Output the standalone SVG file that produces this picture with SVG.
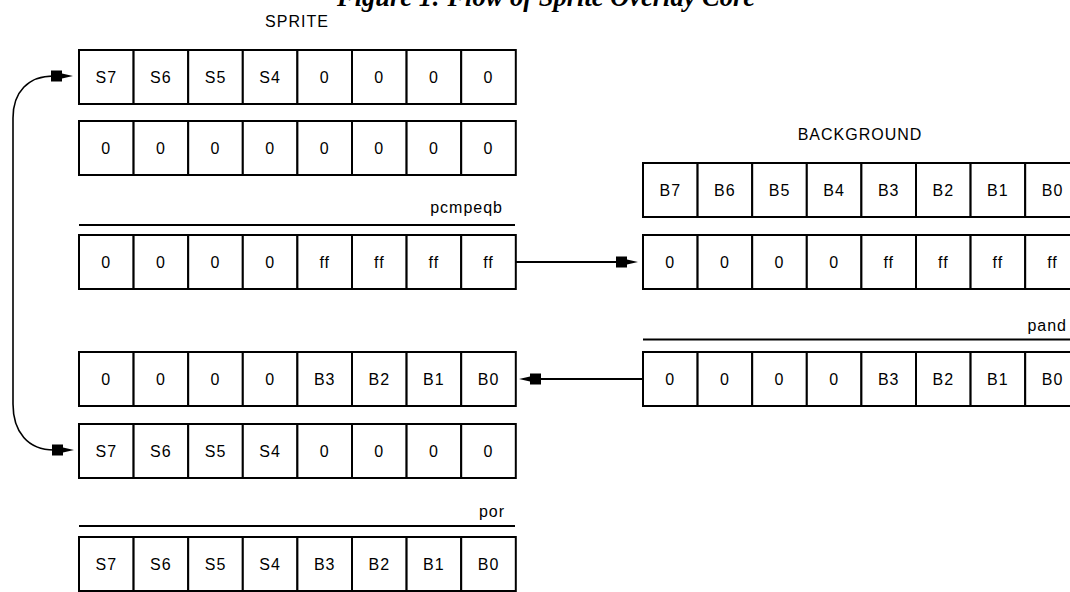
<svg xmlns="http://www.w3.org/2000/svg" xmlns:xlink="http://www.w3.org/1999/xlink" width="1070" height="592" viewBox="0 0 1070 592">
<style>
.cell{fill:#fff;stroke:#000;stroke-width:2}
.t{font-family:"Liberation Sans",Arial,sans-serif;font-size:16px;letter-spacing:1px;fill:#000;text-anchor:middle}
.lbl{font-family:"Liberation Sans",Arial,sans-serif;font-size:16px;letter-spacing:1px;fill:#000}
.bar{stroke:#000;stroke-width:2;fill:none}
.con{stroke:#000;stroke-width:2;fill:none}
.curve{stroke:#000;stroke-width:1.6;fill:none}
.head{fill:#000;stroke:none}
.title{font-family:"Liberation Serif","Times New Roman",serif;font-size:26.5px;font-weight:bold;font-style:italic;fill:#000}
</style>
<defs>
<g id="frame">
<rect class="cell" x="0" y="0" width="54.6" height="54"/>
<rect class="cell" x="54.6" y="0" width="54.6" height="54"/>
<rect class="cell" x="109.2" y="0" width="54.6" height="54"/>
<rect class="cell" x="163.8" y="0" width="54.6" height="54"/>
<rect class="cell" x="218.4" y="0" width="54.6" height="54"/>
<rect class="cell" x="273" y="0" width="54.6" height="54"/>
<rect class="cell" x="327.6" y="0" width="54.6" height="54"/>
<rect class="cell" x="382.2" y="0" width="54.6" height="54"/>
</g>
<path id="ah" class="head" d="M-22,-5.5 H-11 V-2.5 L0,0 L-11,2.5 V5.5 H-22 Z"/>
</defs>
<rect x="0" y="0" width="1070" height="592" fill="#fff"/>

<text class="title" x="337" y="6">Figure 1: Flow of Sprite Overlay Core</text>

<g id="label-sprite"><text class="t" x="297" y="27">SPRITE</text></g>
<g id="label-background"><text class="t" x="860" y="140">BACKGROUND</text></g>

<g id="sprite">
<use href="#frame" x="79" y="50"/>
<g class="t">
<text x="106.3" y="82.6">S7</text><text x="160.9" y="82.6">S6</text><text x="215.5" y="82.6">S5</text><text x="270.1" y="82.6">S4</text>
<text x="324.7" y="82.6">0</text><text x="379.3" y="82.6">0</text><text x="433.9" y="82.6">0</text><text x="488.5" y="82.6">0</text>
</g>
</g>

<g id="zero">
<use href="#frame" x="79" y="121"/>
<g class="t">
<text x="106.3" y="153.6">0</text><text x="160.9" y="153.6">0</text><text x="215.5" y="153.6">0</text><text x="270.1" y="153.6">0</text>
<text x="324.7" y="153.6">0</text><text x="379.3" y="153.6">0</text><text x="433.9" y="153.6">0</text><text x="488.5" y="153.6">0</text>
</g>
</g>

<g id="pcmpeqb">
<line class="bar" x1="79" y1="225" x2="515" y2="225"/>
<text class="lbl" x="503" y="213" text-anchor="end">pcmpeqb</text>
<use href="#frame" x="79" y="235"/>
<g class="t">
<text x="106.3" y="267.6">0</text><text x="160.9" y="267.6">0</text><text x="215.5" y="267.6">0</text><text x="270.1" y="267.6">0</text>
<text x="324.7" y="267.6">ff</text><text x="379.3" y="267.6">ff</text><text x="433.9" y="267.6">ff</text><text x="488.5" y="267.6">ff</text>
</g>
</g>

<g id="masked-background">
<use href="#frame" x="79" y="352"/>
<g class="t">
<text x="106.3" y="384.6">0</text><text x="160.9" y="384.6">0</text><text x="215.5" y="384.6">0</text><text x="270.1" y="384.6">0</text>
<text x="324.7" y="384.6">B3</text><text x="379.3" y="384.6">B2</text><text x="433.9" y="384.6">B1</text><text x="488.5" y="384.6">B0</text>
</g>
</g>

<g id="sprite-copy">
<use href="#frame" x="79" y="424"/>
<g class="t">
<text x="106.3" y="456.6">S7</text><text x="160.9" y="456.6">S6</text><text x="215.5" y="456.6">S5</text><text x="270.1" y="456.6">S4</text>
<text x="324.7" y="456.6">0</text><text x="379.3" y="456.6">0</text><text x="433.9" y="456.6">0</text><text x="488.5" y="456.6">0</text>
</g>
</g>

<g id="por">
<line class="bar" x1="79" y1="526" x2="515" y2="526"/>
<text class="lbl" x="505" y="517" text-anchor="end">por</text>
<use href="#frame" x="79" y="537"/>
<g class="t">
<text x="106.3" y="569.6">S7</text><text x="160.9" y="569.6">S6</text><text x="215.5" y="569.6">S5</text><text x="270.1" y="569.6">S4</text>
<text x="324.7" y="569.6">B3</text><text x="379.3" y="569.6">B2</text><text x="433.9" y="569.6">B1</text><text x="488.5" y="569.6">B0</text>
</g>
</g>

<g id="background">
<use href="#frame" x="643" y="163"/>
<g class="t">
<text x="670.3" y="195.6">B7</text><text x="724.9" y="195.6">B6</text><text x="779.5" y="195.6">B5</text><text x="834.1" y="195.6">B4</text>
<text x="888.7" y="195.6">B3</text><text x="943.3" y="195.6">B2</text><text x="997.9" y="195.6">B1</text><text x="1052.5" y="195.6">B0</text>
</g>
</g>

<g id="mask-copy">
<use href="#frame" x="643" y="235"/>
<g class="t">
<text x="670.3" y="267.6">0</text><text x="724.9" y="267.6">0</text><text x="779.5" y="267.6">0</text><text x="834.1" y="267.6">0</text>
<text x="888.7" y="267.6">ff</text><text x="943.3" y="267.6">ff</text><text x="997.9" y="267.6">ff</text><text x="1052.5" y="267.6">ff</text>
</g>
</g>

<g id="pand">
<line class="bar" x1="643" y1="339.5" x2="1070" y2="339.5"/>
<text class="lbl" x="1067" y="331" text-anchor="end">pand</text>
<use href="#frame" x="643" y="352"/>
<g class="t">
<text x="670.3" y="384.6">0</text><text x="724.9" y="384.6">0</text><text x="779.5" y="384.6">0</text><text x="834.1" y="384.6">0</text>
<text x="888.7" y="384.6">B3</text><text x="943.3" y="384.6">B2</text><text x="997.9" y="384.6">B1</text><text x="1052.5" y="384.6">B0</text>
</g>
</g>

<g id="connectors">
<line class="con" x1="516" y1="262" x2="622" y2="262"/>
<use href="#ah" transform="translate(638,262)"/>
<line class="con" x1="643" y1="379" x2="535" y2="379"/>
<use href="#ah" transform="translate(519,379) rotate(180)"/>
<path class="curve" d="M54,76 C28,76 13,92 13,118 V404 C13,432 28,450 54,450"/>
<use href="#ah" transform="translate(73,76)"/>
<use href="#ah" transform="translate(74,450)"/>
</g>
</svg>
